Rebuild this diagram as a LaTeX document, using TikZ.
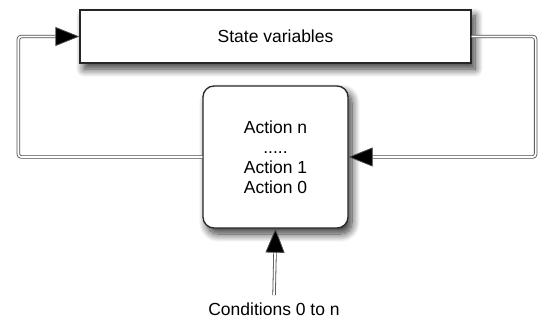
\documentclass[tikz,border=0pt]{standalone}
\usepackage{fontspec}
\setmainfont{Liberation Sans}
\usetikzlibrary{arrows.meta,shadows.blur}

\tikzset{
  box/.style={draw=black!85, line width=1.3pt, fill=white, align=center,
    blur shadow={shadow xshift=4pt, shadow yshift=-6pt, shadow blur steps=14, shadow opacity=80, shadow blur radius=8pt}},
  statebox/.style={box, minimum width=391pt, minimum height=53pt},
  actionbox/.style={box, rounded corners=11pt, minimum width=145pt, minimum height=142pt},
  link/.style={draw=black!70, line width=0.8pt, double=white, double distance=1.8pt,
    rounded corners=3pt, -{Triangle[length=24pt,width=19pt,fill=black]}}
}

\begin{document}
\begin{tikzpicture}[x=1pt,y=-1pt,font=\fontsize{17.5}{20}\selectfont]

\useasboundingbox (0,0) rectangle (539,321);

\node[statebox] (state) at (275.5,36.5) {State variables};
\node[actionbox] (action) at (275.5,157) {Action n\\.....\\Action 1\\Action 0};
\node (cond) at (274,309) {Conditions 0 to n};

\draw[link] (action.west) -- ++(-184,0) |- (state.west);
\draw[link] (state.east) -- ++(64,0) |- (action.east);
\draw[link, shorten <=4pt] (cond.north) -- (action.south);

\end{tikzpicture}
\end{document}
